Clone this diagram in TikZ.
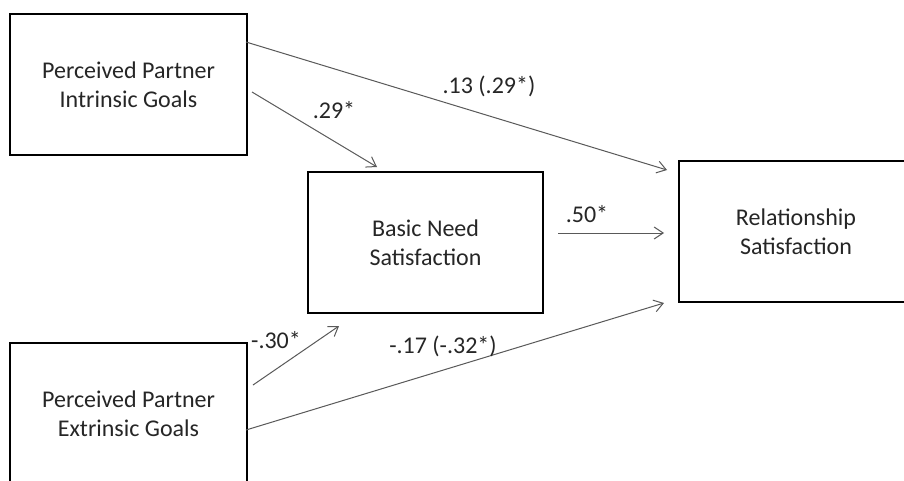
\documentclass[tikz,border=0pt]{standalone}
\usepackage{fontspec}
\setmainfont{Carlito}
\usetikzlibrary{arrows.meta,calc}
\begin{document}
\begin{tikzpicture}[x=1pt,y=-1pt,
  box/.style={draw=black,line width=2pt,rectangle,inner sep=0pt,align=center,font=\fontsize{24}{29.3}\selectfont,text=black!85},
  conn/.style={draw=black!65,line width=1pt,-{Straight Barb[length=9pt,width=12pt,line width=1pt]}},
  lbl/.style={inner sep=0pt,font=\fontsize{24}{29.3}\selectfont,text=black!85}]
\useasboundingbox (0,0) rectangle (904,480);
\fill[white] (0,0) rectangle (904,480);
\node[box,minimum width=237pt,minimum height=141pt] (b1) at (128.5,84.5) {Perceived Partner\\Intrinsic Goals};
\node[box,minimum width=235pt,minimum height=141pt] (b2) at (425.5,242.5) {Basic Need\\Satisfaction};
\node[box,minimum width=237pt,minimum height=142pt] (b3) at (128.5,414) {Perceived Partner\\Extrinsic Goals};
\node[box,minimum width=234pt,minimum height=141pt] (b4) at (796,231.5) {Relationship\\Satisfaction};
% connector ends
\coordinate (s1) at ($(b1.north east)+(-2,29)$);
\coordinate (e1) at ($(b4.north west)+(-11,10)$);
\coordinate (s2) at ($(b1.north east)+(4,79)$);
\coordinate (e2) at ($(b2.north west)+(70,-4)$);
\coordinate (s3) at ($(b2.east)+(14,-9.5)$);
\coordinate (e3) at ($(b4.west)+(-14,1.5)$);
\coordinate (s4) at ($(b3.north east)+(5,43)$);
\coordinate (e4) at ($(b2.south west)+(32,12)$);
\coordinate (s5) at ($(b3.north east)+(-2,88)$);
\coordinate (e5) at ($(b4.south west)+(-14,0)$);
\draw[conn] (s1) -- (e1);
\draw[conn] (s2) -- (e2);
\draw[conn] (s3) -- (e3);
\draw[conn] (s4) -- (e4);
\draw[conn] (s5) -- (e5);
\node[lbl] (l1) at (489,86) {.13 (.29*)};
\node[lbl] (l2) at (334,110) {.29*};
\node[lbl] (l3) at (587,214) {.50*};
\node[lbl] (l4) at (276,340) {-.30*};
\node[lbl] (l5) at (443,346) {-.17 (-.32*)};
\end{tikzpicture}
\end{document}
